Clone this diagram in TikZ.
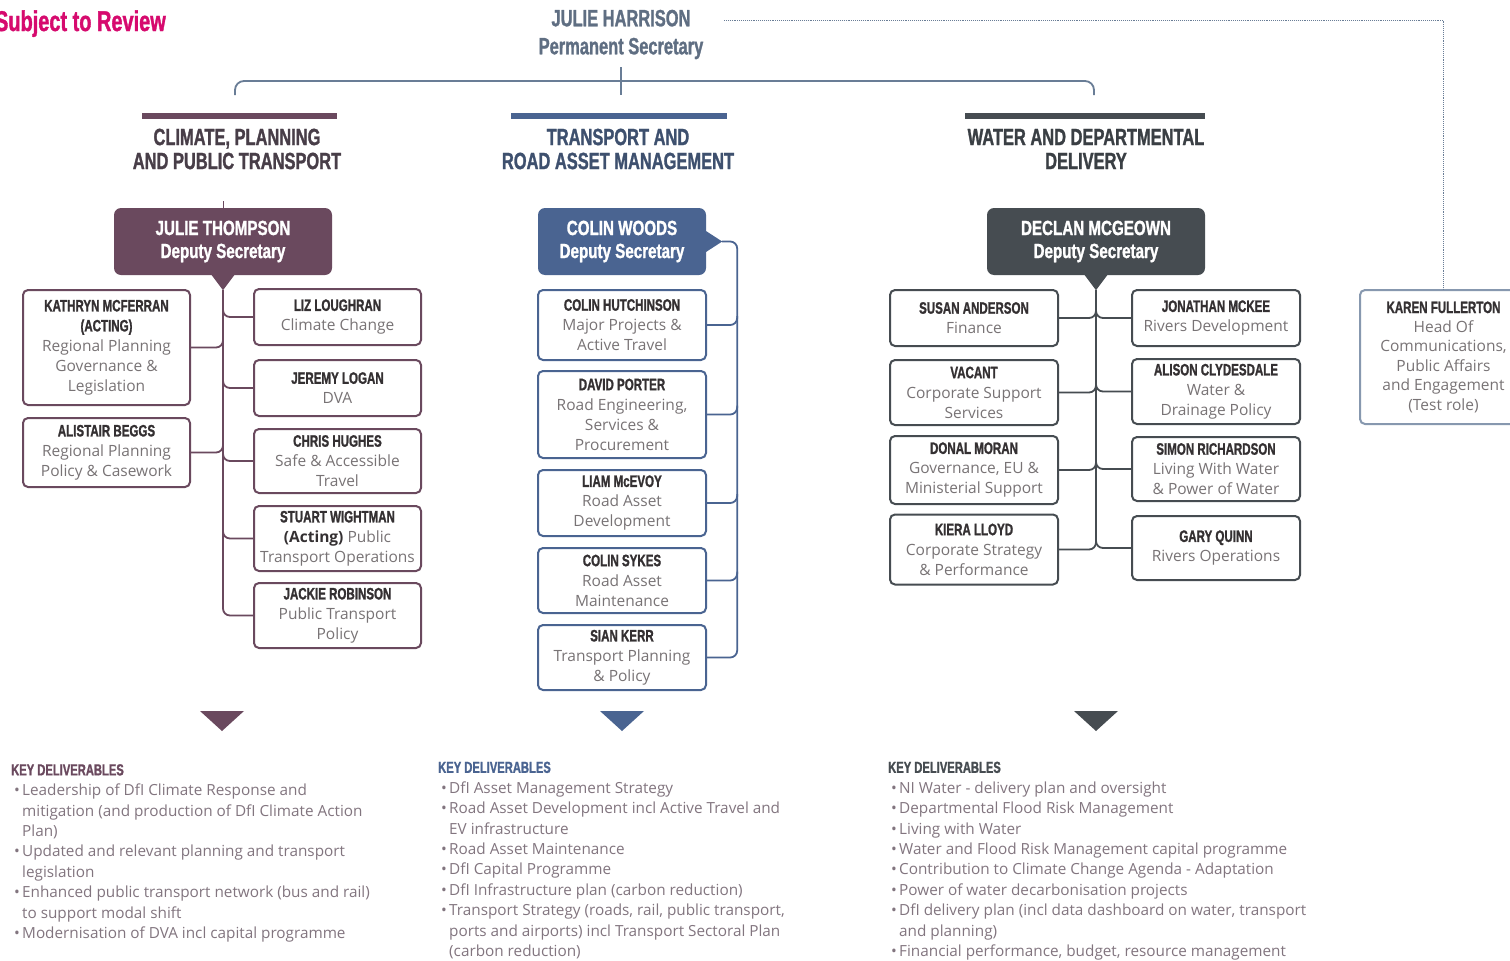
\documentclass[tikz,border=0pt]{standalone}
\usepackage{fontspec}
\setmainfont{Open Sans}
\newfontfamily\cond{Liberation Sans Bold}[FakeStretch=0.70, FakeBold=1.2]
\newfontfamily\condw{Liberation Sans Bold}[FakeStretch=0.74, FakeBold=1.2]
\newfontfamily\bodyf{Open Sans}
\usetikzlibrary{calc}

\definecolor{mauve}{RGB}{106,73,94}
\definecolor{tblue}{RGB}{74,100,145}
\definecolor{dgrey}{RGB}{70,76,81}
\definecolor{kfline}{RGB}{135,152,175}
\definecolor{toplinec}{RGB}{105,125,150}
\definecolor{jhcol}{RGB}{95,110,130}
\definecolor{pinkc}{RGB}{214,10,110}
\definecolor{namecol}{RGB}{52,48,50}
\definecolor{subcol}{RGB}{120,115,117}
\definecolor{delcol}{RGB}{130,117,127}
\definecolor{tonecol}{RGB}{72,62,72}
\definecolor{ttwocol}{RGB}{62,80,110}
\definecolor{tthreecol}{RGB}{58,63,68}

\newcommand{\nm}[1]{{\cond\fontsize{16.5}{20}\selectfont\color{namecol}#1}}
\newcommand{\subfnt}{\bodyf\fontsize{15.5}{20}\selectfont}
\newcommand{\bul}{\hspace*{3pt}\makebox[8pt][l]{•}}
\newcommand{\ind}{\hspace*{11pt}}
\newcommand{\kd}[1]{{\cond\fontsize{16}{20.4}\selectfont\color{#1}KEY DELIVERABLES}}

\tikzset{
  orgbox/.style={draw=#1, line width=2pt, rounded corners=5pt, minimum width=167pt,
     inner sep=0pt, align=center, font=\subfnt, text=subcol, fill=white},
  depbox/.style={fill=#1, rounded corners=7pt, minimum width=218pt, minimum height=67pt,
     inner sep=0pt, align=center, text=white,
     font=\condw\fontsize{20.5}{23}\selectfont},
  cone/.style={draw=mauve, line width=1.8pt, rounded corners=7pt},
  ctwo/.style={draw=tblue, line width=1.8pt, rounded corners=7pt},
  cthree/.style={draw=dgrey, line width=1.8pt, rounded corners=7pt},
  topl/.style={draw=toplinec, line width=1.8pt},
  dotl/.style={draw=toplinec, line width=0.9pt, densely dotted},
  sectitle/.style={align=center, inner sep=0pt, font=\cond\fontsize{23.5}{24}\selectfont},
  deliv/.style={anchor=north west, align=left, inner sep=0pt, text=delcol,
     font=\bodyf\fontsize{15.3}{20.4}\selectfont},
}

\begin{document}
\begin{tikzpicture}[x=1pt,y=-1pt]
\useasboundingbox (0,0) rectangle (1510,961);
\fill[white] (0,0) rectangle (1510,961);

% header
\node[anchor=base east, inner sep=0pt, text=pinkc, font=\cond\fontsize{28.5}{30}\selectfont] (subj) at (166,31) {Subject to Review};
\node[align=center, inner sep=0pt, text=jhcol, font=\cond\fontsize{23.5}{28}\selectfont] (jh) at (621,34.5) {JULIE HARRISON\\Permanent Secretary};

\coordinate (hub) at (621,81);
\coordinate (bra) at (235,95);
\coordinate (brc) at (1094,95);
\draw[topl] ($(jh.south)+(0,8)$) -- ($(jh.south)+(0,36)$);
\draw[topl, rounded corners=9pt] (bra) |- (hub) -| (brc);
\coordinate (ds) at (724,20);

% section bars and titles
\fill[mauve] (142,113) rectangle (337,119);
\fill[tblue] (511,113) rectangle (727,119);
\fill[dgrey] (965,113) rectangle (1205,119);
\node[sectitle, text=tonecol] (s1) at (237,149) {CLIMATE, PLANNING\\AND PUBLIC TRANSPORT};
\node[sectitle, text=ttwocol] (s2) at (618,149) {TRANSPORT AND\\ROAD ASSET MANAGEMENT};
\node[sectitle, text=tthreecol] (s3) at (1086,149) {WATER AND DEPARTMENTAL\\DELIVERY};

% deputy secretaries
\node[depbox=mauve] (jt) at (223,241.5) {JULIE THOMPSON\\Deputy Secretary};
\node[depbox=tblue, minimum width=168pt] (cw) at (622,241.5) {COLIN WOODS\\Deputy Secretary};
\node[depbox=dgrey] (dmg) at (1096,241.5) {DECLAN MCGEOWN\\Deputy Secretary};

\coordinate (jttip) at ($(jt.south)+(0,15)$);
\fill[mauve] ($(jt.south)+(-12,-1)$) -- ($(jt.south)+(12,-1)$) -- (jttip) -- cycle;
\coordinate (cwtip) at ($(cw.east)+(16,0)$);
\fill[tblue] ($(cw.east)+(-1,-11)$) -- ($(cw.east)+(-1,11)$) -- (cwtip) -- cycle;
\coordinate (dtip) at ($(dmg.south)+(0,15)$);
\fill[dgrey] ($(dmg.south)+(-12,-1)$) -- ($(dmg.south)+(12,-1)$) -- (dtip) -- cycle;
\draw[draw=mauve, line width=1pt] (jt.north) -- ++(0,-7);

% group 1 boxes
\node[orgbox=mauve, minimum height=115pt] (km) at (106.5,347.5) {\nm{KATHRYN MCFERRAN}\\\nm{(ACTING)}\\Regional Planning\\Governance \&\\Legislation};
\node[orgbox=mauve, minimum height=69pt] (ab) at (106.5,452.5) {\nm{ALISTAIR BEGGS}\\Regional Planning\\Policy \& Casework};
\node[orgbox=mauve, minimum height=56pt] (ll) at (337.5,317) {\nm{LIZ LOUGHRAN}\\Climate Change};
\node[orgbox=mauve, minimum height=56pt] (jl) at (337.5,388) {\nm{JEREMY LOGAN}\\DVA};
\node[orgbox=mauve, minimum height=64pt] (ch) at (337.5,461) {\nm{CHRIS HUGHES}\\Safe \& Accessible\\Travel};
\node[orgbox=mauve, minimum height=65pt] (sw) at (337.5,538.5) {\nm{STUART WIGHTMAN}\\{\bfseries\color{namecol}(Acting)} Public\\Transport Operations};
\node[orgbox=mauve, minimum height=65pt] (jr) at (337.5,615.5) {\nm{JACKIE ROBINSON}\\Public Transport\\Policy};

\draw[cone] (jttip) |- (jr.west);
\foreach \b in {ll,jl,ch,sw}{\draw[cone] ($(jttip |- \b.west)+(0,-9)$) |- (\b.west);}
\foreach \b in {km,ab}{\draw[cone] ($(jttip |- \b.east)+(0,-9)$) |- (\b.east);}

% group 2 boxes
\node[orgbox=tblue, minimum width=168pt, minimum height=70pt] (chu) at (622,325) {\nm{COLIN HUTCHINSON}\\Major Projects \&\\Active Travel};
\node[orgbox=tblue, minimum width=168pt, minimum height=87pt] (dp) at (622,414.5) {\nm{DAVID PORTER}\\Road Engineering,\\Services \&\\Procurement};
\node[orgbox=tblue, minimum width=168pt, minimum height=66pt] (lm) at (622,503) {\nm{LIAM McEVOY}\\Road Asset\\Development};
\node[orgbox=tblue, minimum width=168pt, minimum height=65pt] (cs) at (622,580.5) {\nm{COLIN SYKES}\\Road Asset\\Maintenance};
\node[orgbox=tblue, minimum width=168pt, minimum height=65pt] (sk) at (622,657.5) {\nm{SIAN KERR}\\Transport Planning\\\& Policy};

\coordinate (ttwo) at ($(cw.east)+(31,0)$);
\draw[ctwo] (cwtip) -- (ttwo) |- (sk.east);
\foreach \b in {chu,dp,lm,cs}{\draw[ctwo] ($(ttwo |- \b.east)+(0,-9)$) |- (\b.east);}

% group 3 boxes
\node[orgbox=dgrey, minimum width=168pt, minimum height=56pt] (sa) at (974,318) {\nm{SUSAN ANDERSON}\\Finance};
\node[orgbox=dgrey, minimum width=168pt, minimum height=65pt] (va) at (974,392.5) {\nm{VACANT}\\Corporate Support\\Services};
\node[orgbox=dgrey, minimum width=168pt, minimum height=68pt] (dm) at (974,470) {\nm{DONAL MORAN}\\Governance, EU \&\\Ministerial Support};
\node[orgbox=dgrey, minimum width=168pt, minimum height=70pt] (kl) at (974,549.5) {\nm{KIERA LLOYD}\\Corporate Strategy\\\& Performance};
\node[orgbox=dgrey, minimum width=168pt, minimum height=56pt] (jm) at (1216,318) {\nm{JONATHAN MCKEE}\\Rivers Development};
\node[orgbox=dgrey, minimum width=168pt, minimum height=65pt] (ac) at (1216,391.5) {\nm{ALISON CLYDESDALE}\\Water \&\\Drainage Policy};
\node[orgbox=dgrey, minimum width=168pt, minimum height=64pt] (sr) at (1216,469) {\nm{SIMON RICHARDSON}\\Living With Water\\\& Power of Water};
\node[orgbox=dgrey, minimum width=168pt, minimum height=64pt] (gq) at (1216,548) {\nm{GARY QUINN}\\Rivers Operations};

\draw[cthree] (dtip) -- ($(dtip |- kl.east)+(0,-9)$);
\foreach \b in {sa,va,dm,kl}{\draw[cthree] ($(dtip |- \b.east)+(0,-9)$) |- (\b.east);}
\foreach \b in {jm,ac,sr,gq}{\draw[cthree] ($(dtip |- \b.west)+(0,-9)$) |- (\b.west);}

% Karen Fullerton
\node[orgbox=kfline, minimum height=134pt, font=\bodyf\fontsize{15.5}{19.4}\selectfont] (kf) at (1443.5,357) {\nm{KAREN FULLERTON}\\Head Of\\Communications,\\Public Affairs\\and Engagement\\(Test role)};
\draw[dotl] (ds) -| (kf.north);

% bottom triangles
\fill[mauve] (200,711) -- (244,711) -- (222,731) -- cycle;
\fill[tblue] (600,711) -- (644,711) -- (622,731) -- cycle;
\fill[dgrey] (1074,711) -- (1118,711) -- (1096,731) -- cycle;

% key deliverables
\node[deliv] (kd1) at (11,764) {\kd{mauve}\\
\bul Leadership of DfI Climate Response and\\
\ind mitigation (and production of DfI Climate Action\\
\ind Plan)\\
\bul Updated and relevant planning and transport\\
\ind legislation\\
\bul Enhanced public transport network (bus and rail)\\
\ind to support modal shift\\
\bul Modernisation of DVA incl capital programme};

\node[deliv] (kd2) at (438,761.5) {\kd{tblue}\\
\bul DfI Asset Management Strategy\\
\bul Road Asset Development incl Active Travel and\\
\ind EV infrastructure\\
\bul Road Asset Maintenance\\
\bul DfI Capital Programme\\
\bul DfI Infrastructure plan (carbon reduction)\\
\bul Transport Strategy (roads, rail, public transport,\\
\ind ports and airports) incl Transport Sectoral Plan\\
\ind (carbon reduction)};

\node[deliv] (kd3) at (888,761.5) {\kd{dgrey}\\
\bul NI Water - delivery plan and oversight\\
\bul Departmental Flood Risk Management\\
\bul Living with Water\\
\bul Water and Flood Risk Management capital programme\\
\bul Contribution to Climate Change Agenda - Adaptation\\
\bul Power of water decarbonisation projects\\
\bul DfI delivery plan (incl data dashboard on water, transport\\
\ind and planning)\\
\bul Financial performance, budget, resource management};
\end{tikzpicture}
\end{document}
